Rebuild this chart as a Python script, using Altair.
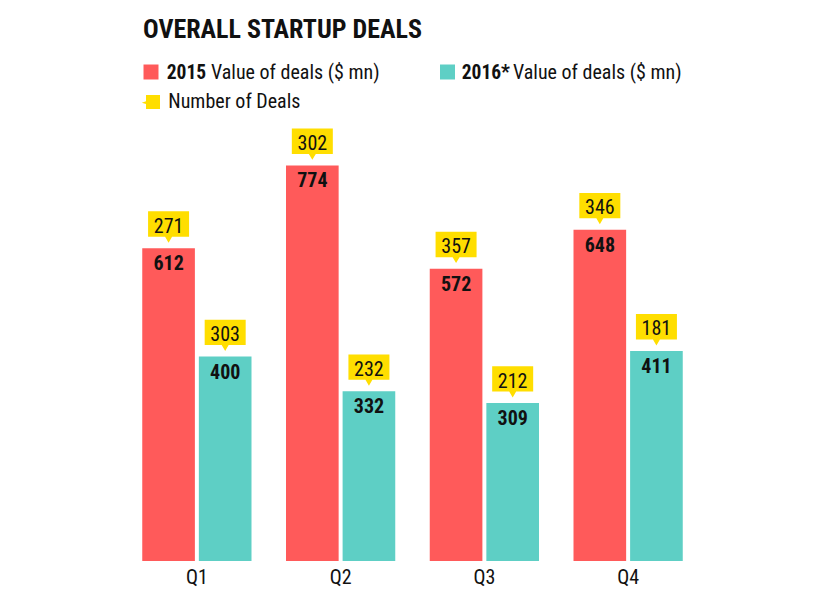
import altair as alt
import pandas as pd

quarters = ["Q1", "Q2", "Q3", "Q4"]
years = ["2015", "2016*"]
value_2015 = [612, 774, 572, 648]
value_2016 = [400, 332, 309, 411]
deals_2015 = [271, 302, 357, 346]
deals_2016 = [303, 232, 212, 181]

rows = []
for i, q in enumerate(quarters):
    rows.append({"quarter": q, "year": years[0], "value": value_2015[i], "deals": deals_2015[i]})
    rows.append({"quarter": q, "year": years[1], "value": value_2016[i], "deals": deals_2016[i]})
df = pd.DataFrame(rows)

RED = "#FF5A5A"
TEAL = "#5ECFC5"
YELLOW = "#FFDE00"
INK = "#111111"
FONT = "Roboto Condensed, Liberation Sans Narrow, DejaVu Sans Condensed, Roboto, sans-serif"

x = alt.X("quarter:N", sort=quarters,
          scale=alt.Scale(paddingInner=0.24, paddingOuter=0.12),
          axis=alt.Axis(title=None, labelAngle=0, domain=False, ticks=False, grid=False,
                        labelFontSize=20, labelFont=FONT, labelColor=INK, labelPadding=6))
xo = alt.XOffset("year:N", sort=years, scale=alt.Scale(paddingInner=0.07, paddingOuter=0))
y = alt.Y("value:Q", scale=alt.Scale(domain=[0, 900], nice=False), axis=None)

base = alt.Chart(df).encode(x=x, xOffset=xo, y=y)

bars = base.mark_bar().encode(
    color=alt.Color("year:N", scale=alt.Scale(domain=years, range=[RED, TEAL]), legend=None)
)
value_text = base.mark_text(dy=22, baseline="alphabetic", fontWeight="bold", fontSize=20,
                            font=FONT, color=INK).encode(text="value:Q")

callout_path = "M0,-0.27L-0.17,-0.56L-1,-0.56L-1,-1.8L1,-1.8L1,-0.56L0.17,-0.56Z"
callouts = base.mark_point(shape=callout_path, size=1681, filled=True, fill=YELLOW,
                           opacity=1, strokeWidth=0)
callout_text = base.mark_text(dy=-15.5, baseline="alphabetic", fontSize=20, font=FONT,
                              color=INK).encode(text="deals:Q")

one = pd.DataFrame({"k": [0]})


def label(txt, px, py, size, weight="normal"):
    return alt.Chart(one).mark_text(text=txt, align="left", baseline="alphabetic", fontSize=size,
                                    fontWeight=weight, font=FONT, color=INK).encode(
        x=alt.value(px), y=alt.value(py))


def swatch(color, px, py, shape="square", size=225):
    return alt.Chart(one).mark_point(shape=shape, size=size, filled=True, fill=color, opacity=1,
                                     strokeWidth=0).encode(x=alt.value(px), y=alt.value(py))


legend_icon_path = "M-1,-1L1,-1L1,1L-1,1L-1,0.3L-1.6,0.1L-1,-0.1Z"

layers = [
    bars, value_text, callouts, callout_text,
    label("OVERALL STARTUP DEALS", 18, -63, 26, "bold"),
    swatch(RED, 26, -29),
    label("2015", 41.7, -22, 19.5, "bold"),
    label("Value of deals ($ mn)", 86, -22, 20),
    swatch(TEAL, 322.5, -29),
    label("2016*", 336.7, -22, 19.5, "bold"),
    label("Value of deals ($ mn)", 388, -22, 20),
    swatch(YELLOW, 28, 1, legend_icon_path, 196),
    label("Number of Deals", 43.3, 7, 20),
]

chart = alt.layer(*layers).properties(
    width=575, height=460,
    autosize=alt.AutoSizeParams(type="none"),
    padding={"left": 117, "top": 93, "right": 10, "bottom": 40},
).configure_view(stroke=None)

chart.save("out.html", embed_options={"renderer": "svg", "actions": False})
